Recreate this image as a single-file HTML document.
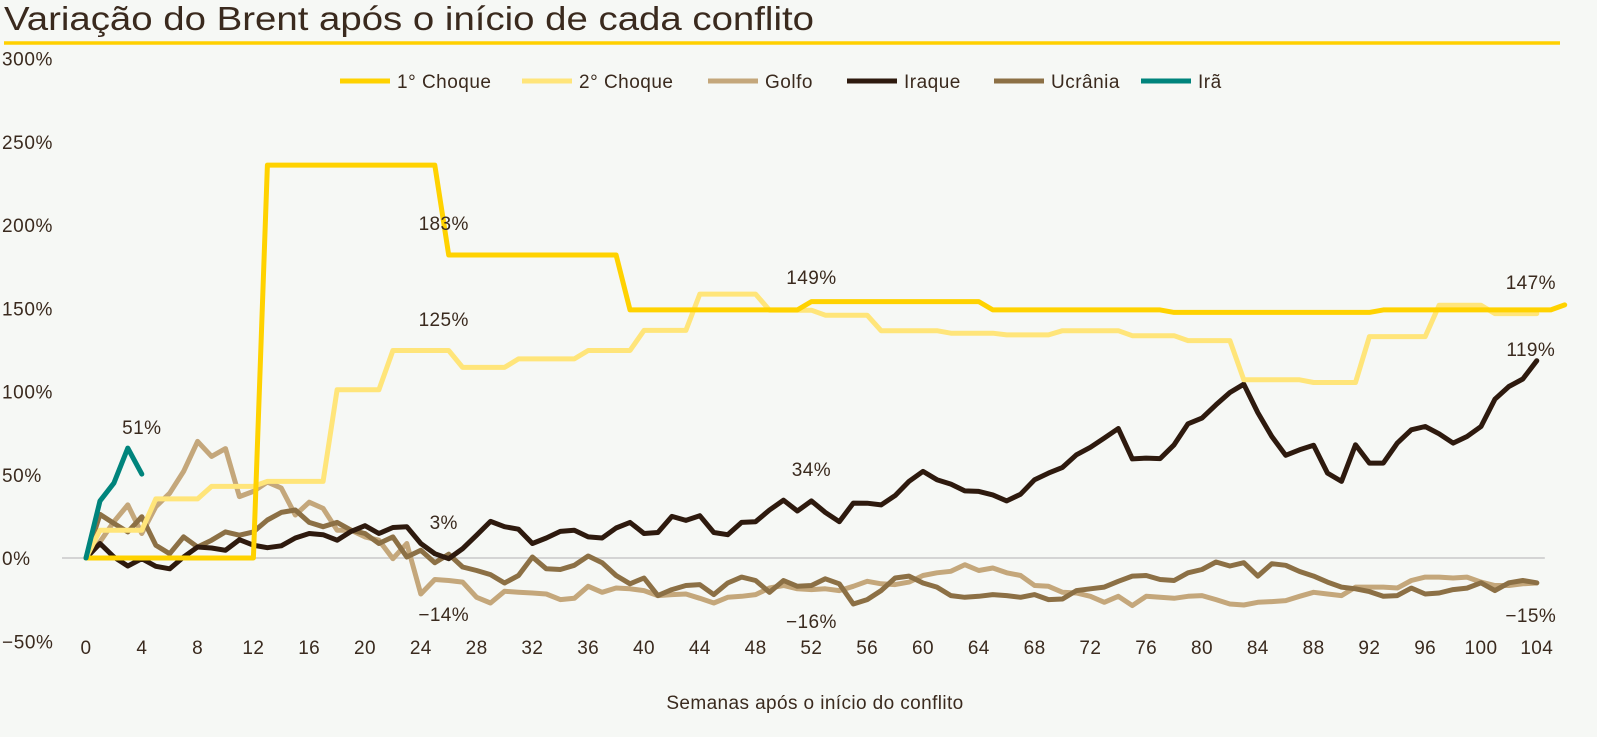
<!DOCTYPE html>
<html><head><meta charset="utf-8">
<style>
html,body{margin:0;padding:0;background:#f6f8f5;}
svg{display:block;font-family:"Liberation Sans",sans-serif;}
</style></head>
<body>
<svg id="chart" width="1597" height="737" viewBox="0 0 1597 737" xmlns="http://www.w3.org/2000/svg">
<rect x="0" y="0" width="1597" height="737" fill="#f6f8f5"/>
<text x="4" y="30" font-size="33" fill="#3a2a1e" textLength="810" lengthAdjust="spacingAndGlyphs">Variação do Brent após o início de cada conflito</text>
<line x1="4" y1="43" x2="1560" y2="43" stroke="#ffd000" stroke-width="3.5"/>
<g id="yaxis"></g>
<g id="xaxis"></g>
<line id="zero" stroke="#d4d4d4" stroke-width="2"/>
<g id="series"></g>
<g id="labels"></g>
<g id="legend"></g>
<text x="815" y="709" font-size="19" letter-spacing="0.4" fill="#3a2a1e" text-anchor="middle">Semanas após o início do conflito</text>
</svg>
<script>
const yTicks = [300, 250, 200, 150, 100, 50, 0, -50];
const xTicks = [0,4,8,12,16,20,24,28,32,36,40,44,48,52,56,60,64,68,72,76,80,84,88,92,96,100,104];
const seriesNames = ["1° Choque","2° Choque","Golfo","Iraque","Ucrânia","Irã"];
const seriesColors = ["#ffd200","#ffe57a","#c4a77b","#2e1a0e","#8c7045","#00847c"];

const choque1 = [0,0,0,0,0,0,0,0,0,0,0,0,0,236,236,236,236,236,236,236,236,236,236,236,236,236,182,182,182,182,182,182,182,182,182,182,182,182,182,149,149,149,149,149,149,149,149,149,149,149,149,149,154,154,154,154,154,154,154,154,154,154,154,154,154,149,149,149,149,149,149,149,149,149,149,149,149,149,147.5,147.5,147.5,147.5,147.5,147.5,147.5,147.5,147.5,147.5,147.5,147.5,147.5,147.5,147.5,149,149,149,149,149,149,149,149,149,149,149,149,149,152];
const choque2 = [0,16.7,16.7,16.7,16.7,35.5,35.5,35.5,35.5,43,43,43,43,46,46,46,46,46,101,101,101,101,124.6,124.6,124.6,124.6,124.6,114.5,114.5,114.5,114.5,119.6,119.6,119.6,119.6,119.6,124.6,124.6,124.6,124.6,136.7,136.7,136.7,136.7,158.5,158.5,158.5,158.5,158.5,148.8,148.8,148.8,148.8,145.8,145.8,145.8,145.8,136.5,136.5,136.5,136.5,136.5,135,135,135,135,134,134,134,134,136.5,136.5,136.5,136.5,136.5,133.5,133.5,133.5,133.5,130.6,130.6,130.6,130.6,107,107,107,107,107,105.4,105.4,105.4,105.4,133,133,133,133,133,151.8,151.8,151.8,151.8,146.8,146.8,146.8,146.8];
const golfo = [0,9.7,21.8,31.9,14.7,30.8,38.9,52,70,61,65.7,36.9,40,45.6,42,25.8,33.5,29.8,16.7,16.7,12.7,10.7,-0.4,8.7,-21.6,-12.9,-13.5,-14.5,-23.6,-27,-20,-20.6,-21,-21.6,-25,-24.2,-17,-20.6,-18,-18.5,-19.6,-22.6,-22,-21.6,-24.2,-27,-23.6,-23,-22,-18,-16.5,-18.5,-19,-18.5,-19.6,-17,-14,-15.5,-16,-14.5,-10.5,-8.9,-8,-4,-7.5,-6,-8.9,-10.5,-16.5,-17,-20.6,-21,-23,-26.6,-23,-28.6,-23,-23.6,-24.2,-23,-22.6,-25,-27.6,-28.2,-26.6,-26.2,-25.6,-23,-20.6,-21.6,-22.6,-17.5,-17.5,-17.5,-18,-13.5,-11.5,-11.5,-12,-11.5,-14.5,-16.5,-16.5,-15.5,-15];
const iraque = [0,8.7,0.6,-4.8,-0.4,-5,-6.5,0.6,6.6,6,4.6,11,7.7,6.2,7.3,12,14.7,14,10.7,16,19.4,14.7,18.3,18.8,8.7,2.6,-0.4,5.6,13.7,22,18.8,17.3,8.7,12,16,16.7,12.7,12,18,21.4,14.7,15.3,25,22.6,25.4,15.3,14,21.4,21.8,28.8,34.7,28.2,34.3,27.4,21.8,33,32.9,31.9,37.5,46,52,47,44.4,40.3,40,37.9,34.3,38.3,47,51,54.4,62,66.5,72,77.8,59.5,60,59.7,68,80.6,84,92,99.4,104.4,87.3,73,61.7,65,67.7,51,46,68,57,57,69,77,79,74.6,69,73,79,95.4,103,107.5,118.5];
const ucrania = [0,26.2,20.8,15.7,24.8,7.7,2.6,12.7,6.6,10.7,15.7,13.7,15.7,22.8,27.4,28.8,21.4,18.8,21.4,16.7,14.7,8.7,12.7,0.6,4.6,-2.8,2.3,-5.4,-7.5,-10,-15,-10.5,0.6,-6.5,-6.9,-4.4,1.2,-2.8,-10.5,-15.5,-12,-22.6,-19,-16.5,-16,-22,-15,-11.5,-13.5,-20.6,-13.5,-17,-16.5,-12.5,-15.5,-27.6,-25,-19.6,-12,-10.9,-15,-17.5,-22.6,-23.6,-23,-22,-22.6,-23.6,-22,-25,-24.6,-19.6,-18.5,-17.5,-14,-10.9,-10.5,-12.9,-13.5,-8.9,-6.9,-2.4,-4.8,-2.8,-10.9,-3.4,-4.4,-8.1,-10.9,-14.5,-17.5,-18.5,-20.2,-23,-22.6,-18.1,-21.6,-21,-19,-18.1,-14.9,-19.6,-14.9,-13.5,-14.9];
const ira = [0,34.3,45,66,50.4];

const labelTexts = ["183%","125%","3%","-14%","51%","149%","34%","-16%","147%","119%","-15%"];
const labelWeeks = [26,26,26,26,4,52,52,52,104,104,104];
const labelValues = [183,125,3,-14,51,149,34,-16,147,119,-15];

const NS = "http://www.w3.org/2000/svg";
const X0 = 86, XW = 13.95, Y0 = 558, YK = 1.665;
function xs(w){ return X0 + w * XW; }
function ys(v){ return Y0 - v * YK; }
function mk(tag, attrs, parent){
  const e = document.createElementNS(NS, tag);
  for (const k in attrs) e.setAttribute(k, attrs[k]);
  parent.appendChild(e);
  return e;
}
const INK = "#3a2a1e";
const yG = document.getElementById('yaxis');
yTicks.forEach(t => {
  const tx = mk('text', {x: 2, y: ys(t) + 7, 'font-size': 19, 'letter-spacing': 0.6, fill: INK}, yG);
  
  
  tx.textContent = (t < 0 ? '\u2212' + Math.abs(t) : t) + '%';
});
const xG = document.getElementById('xaxis');
xTicks.forEach(t => {
  const tx = mk('text', {x: xs(t), y: 654, 'font-size': 19, 'letter-spacing': 0.4, fill: INK, 'text-anchor': 'middle'}, xG);
  
  
  tx.textContent = t;
});
const z = document.getElementById('zero');
z.setAttribute('x1', xs(0) - 24); z.setAttribute('x2', xs(104) + 8);
z.setAttribute('y1', ys(0)); z.setAttribute('y2', ys(0));

const allSeries = [choque1, choque2, golfo, iraque, ucrania, ira];
const seriesKeys = ["series-1-choque","series-2-choque","series-golfo","series-iraque","series-ucrania","series-ira"];
const sG = document.getElementById('series');
const order = [2, 4, 3, 1, 0, 5];
order.forEach(i => {
  const d = allSeries[i].map((v, w) => (w ? 'L' : 'M') + xs(w).toFixed(1) + ',' + ys(v).toFixed(1)).join(' ');
  const p = mk('path', {d: d, fill: 'none', stroke: seriesColors[i], 'stroke-width': 5, 'stroke-linejoin': 'round', 'stroke-linecap': 'round'}, sG);
  
  
});

const lG = document.getElementById('labels');
labelTexts.forEach((t, i) => {
  let yy;
  const w = labelWeeks[i];
  if (w === 26) yy = [230, 326, 529, 621][i];
  else if (w === 4) yy = 434;
  else if (w === 52) yy = [284, 476, 628][i - 5];
  else yy = [289, 356, 622][i - 8];
  const tx = mk('text', {x: w === 104 ? xs(w) - 6 : xs(w) - (w === 26 ? 5 : 0), y: yy, 'font-size': 19, 'letter-spacing': 0.4, fill: INK, 'text-anchor': 'middle'}, lG);
  
  
  tx.textContent = t.replace('-', '\u2212');
});

const legX = [340, 522, 708, 847, 994, 1141];
const leg = document.getElementById('legend');
seriesNames.forEach((n, i) => {
  const g = mk('g', {}, leg);
  
  
  const ln = mk('line', {x1: legX[i], y1: 81, x2: legX[i] + 50, y2: 81, stroke: seriesColors[i], 'stroke-width': 5}, g);
  
  
  const tx = mk('text', {x: legX[i] + 57, y: 88, 'font-size': 19, 'letter-spacing': 0.5, fill: INK}, g);
  
  
  tx.textContent = n;
});
</script>
</body></html>
